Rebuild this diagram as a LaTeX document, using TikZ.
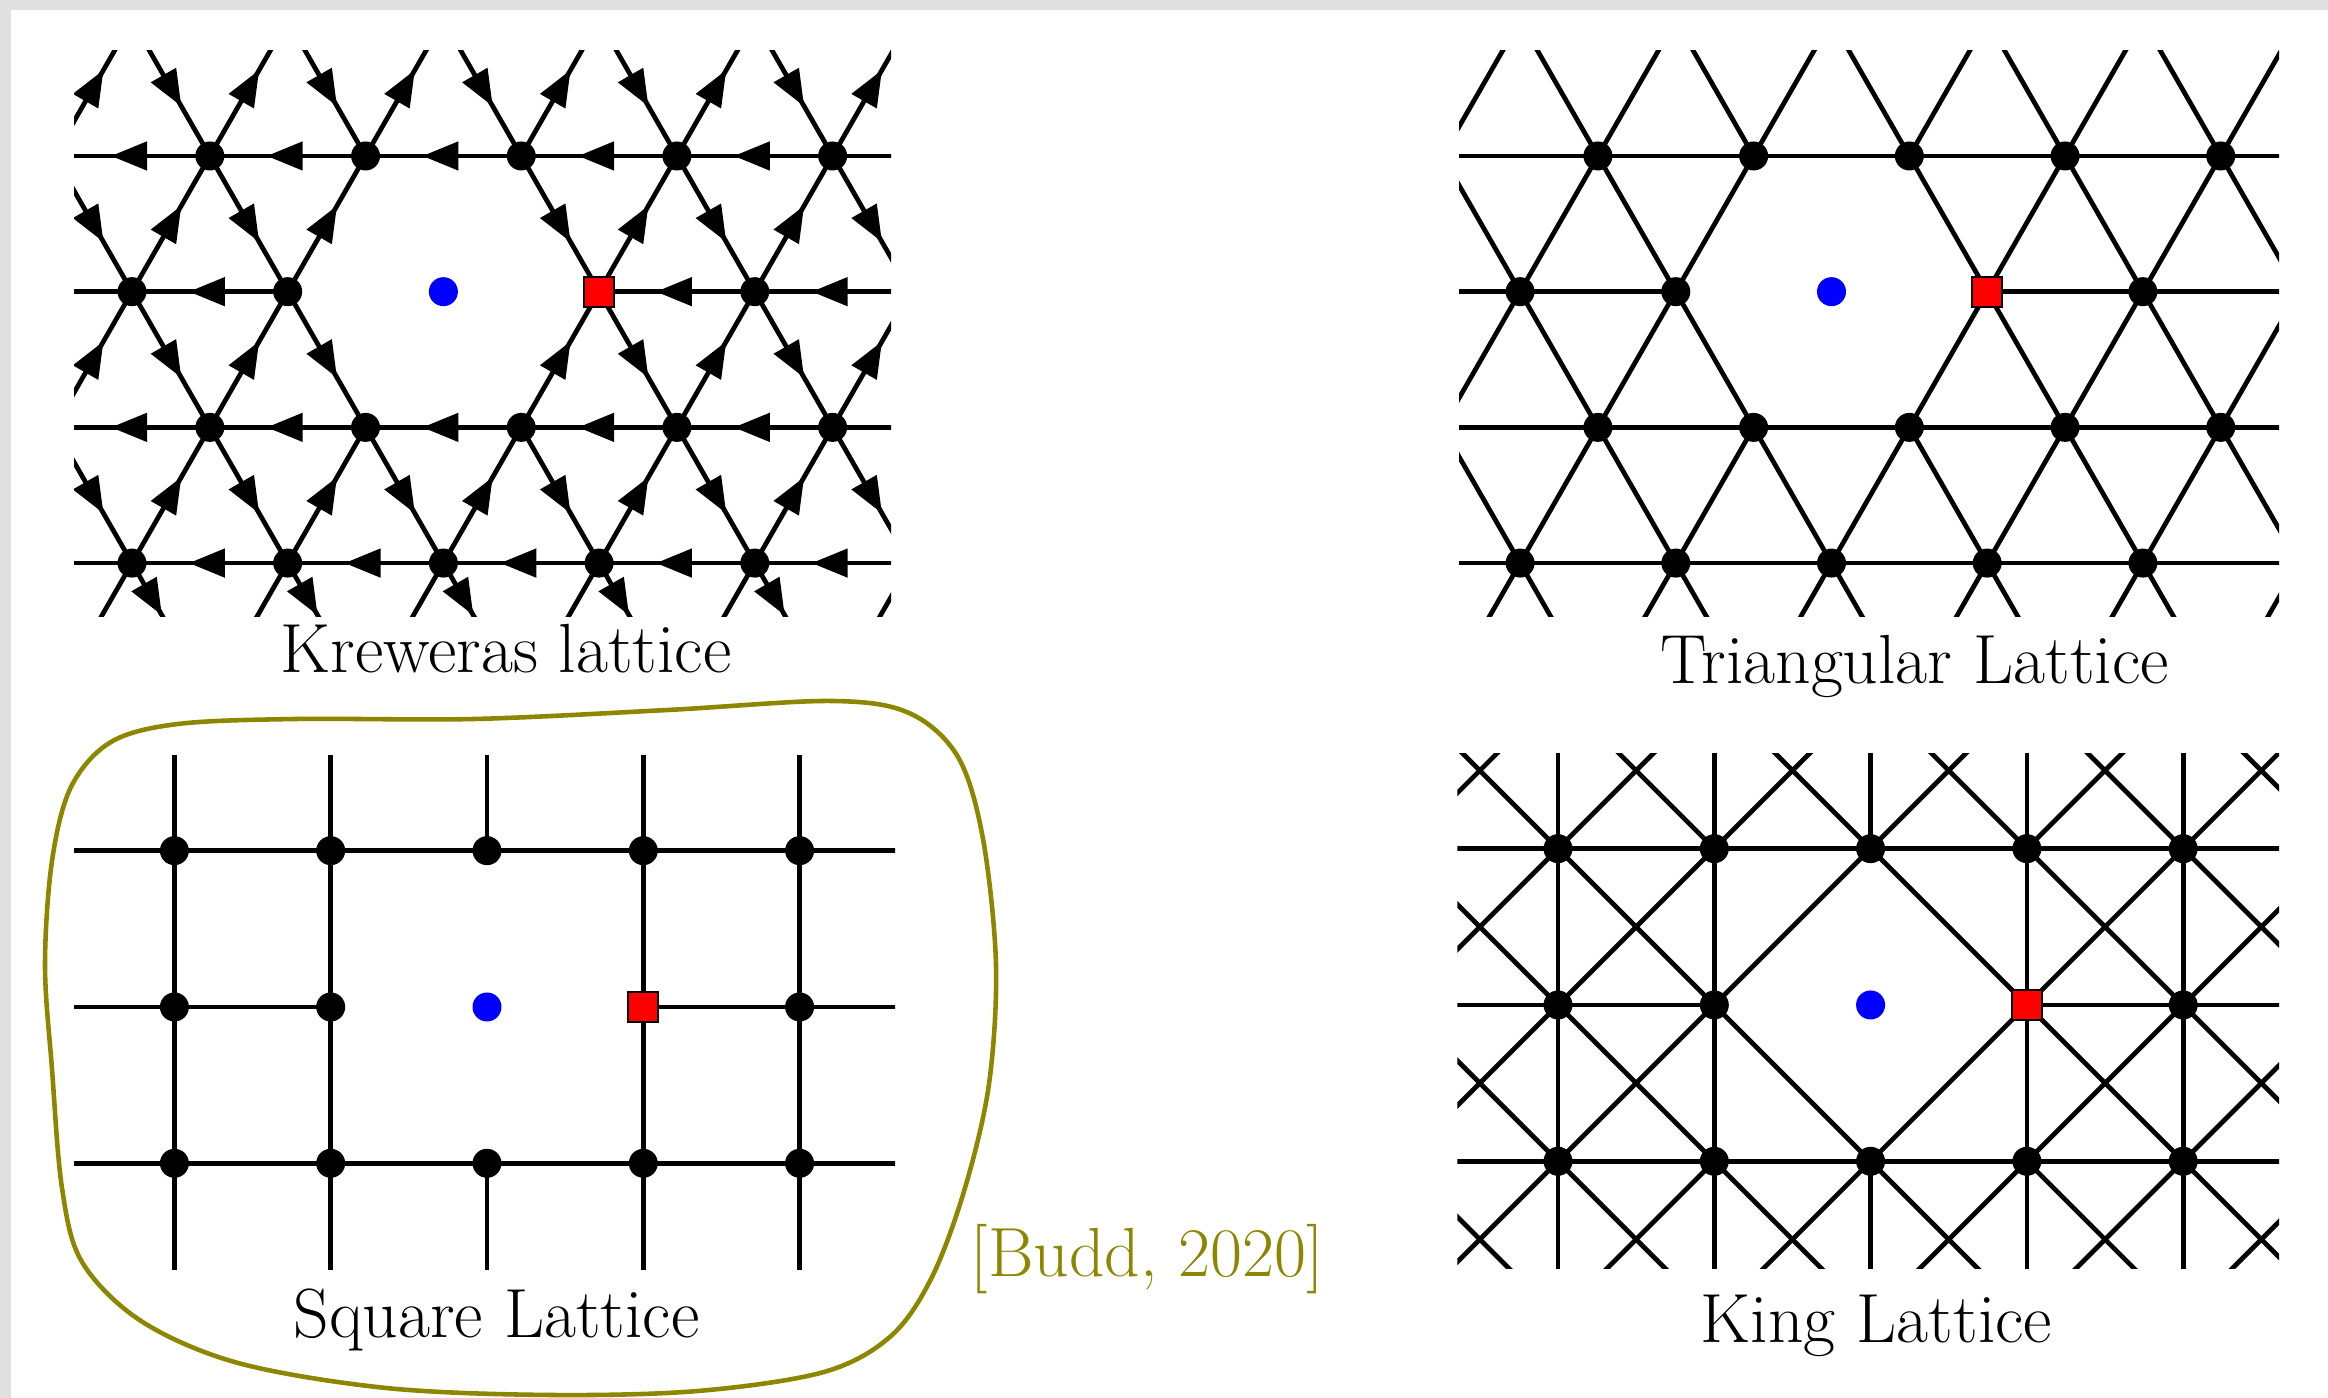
\documentclass[tikz,border=0pt]{standalone}
\usepackage{xcolor}
\usepackage{tikz}
\usetikzlibrary{arrows.meta,decorations.markings}

\begin{document}
\begin{tikzpicture}[
  edge/.style={line width=1.35pt},
  flow/.style={edge, postaction={decorate}, decoration={markings, mark=at position 0.5 with {\arrow[xshift=2.1mm]{Triangle[length=3.6mm,width=2.8mm]}}}},
  flowend/.style={edge, postaction={decorate}, decoration={markings, mark=at position 0.385 with {\arrow{Triangle[length=3.6mm,width=2.8mm]}}}},
  site/.style={circle, fill=black, inner sep=0pt, minimum size=2.9mm},
  origin/.style={circle, fill=blue, inner sep=0pt, minimum size=2.9mm},
  target/.style={rectangle, draw=black, fill=red, line width=0.6pt, inner sep=0pt, minimum size=3mm},
  caption/.style={anchor=base, inner sep=0pt, font=\fontsize{19.8}{24}\selectfont},
  blob/.style={draw=olive, line width=1.3pt}
]
\def\tra{1.557}
\def\trb{1.357}
\def\sqa{1.563}
\useasboundingbox (0,0) rectangle (23.28,13.98);
\fill[black!12] (0,0) rectangle (23.28,13.98);
\fill[white] (0.11,0) rectangle (23.28,13.88);

% Kreweras lattice
\foreach \i in {-6,...,6}
  \foreach \j in {-3,...,3}
    \coordinate (kr-\i-\j) at ({4.434+\i*\tra+\j*\tra/2},{11.063+\j*\trb});
\begin{scope}
  \clip (0.74,7.81) rectangle (8.91,13.47);
  \foreach \i in {-5,...,5}
    \foreach \j in {-3,...,2} {
      \pgfmathtruncatemacro\ip{\i+1}
      \pgfmathtruncatemacro\im{\i-1}
      \pgfmathtruncatemacro\jp{\j+1}
      \pgfmathtruncatemacro\cutH{(\j==0)&&((\i==0)||(\i==-1))}
      \pgfmathtruncatemacro\cutU{(\i==0)&&((\j==0)||(\j==-1))}
      \pgfmathtruncatemacro\cutD{((\i==0)&&(\j==0))||((\i==1)&&(\j==-1))}
      \ifnum\j=-3
        % stubs below the last row
        \draw[edge] (kr-\i-\j) -- (kr-\i-\jp);
        \draw[flowend] (kr-\im-\jp) -- (kr-\i-\j);
      \else
        \ifnum\cutH=0 \draw[flow] (kr-\ip-\j) -- (kr-\i-\j); \fi
        \ifnum\cutU=0 \draw[flow] (kr-\i-\j) -- (kr-\i-\jp); \fi
        \ifnum\cutD=0 \draw[flow] (kr-\im-\jp) -- (kr-\i-\j); \fi
      \fi
    }
  \foreach \i in {-6,...,6}
    \foreach \j in {-3,...,3} {
      \pgfmathtruncatemacro\isdot{((\i==0)||(\i==1))&&(\j==0)}
      \ifnum\isdot=0 \node[site] (krs-\i-\j) at (kr-\i-\j) {}; \fi
    }
\end{scope}
\node[origin] (krblue) at (kr-0-0) {};
\node[target] (krred) at (kr-1-0) {};
\node[caption] (krcap) at (5.06,7.25) {Kreweras lattice};

% triangular lattice
\foreach \i in {-6,...,6}
  \foreach \j in {-3,...,3}
    \coordinate (tr-\i-\j) at ({18.315+\i*\tra+\j*\tra/2},{11.063+\j*\trb});
\begin{scope}
  \clip (14.59,7.81) rectangle (22.79,13.47);
  \foreach \i in {-5,...,5}
    \foreach \j in {-3,...,2} {
      \pgfmathtruncatemacro\ip{\i+1}
      \pgfmathtruncatemacro\im{\i-1}
      \pgfmathtruncatemacro\jp{\j+1}
      \pgfmathtruncatemacro\cutH{(\j==0)&&((\i==0)||(\i==-1))}
      \pgfmathtruncatemacro\cutU{(\i==0)&&((\j==0)||(\j==-1))}
      \pgfmathtruncatemacro\cutD{((\i==0)&&(\j==0))||((\i==1)&&(\j==-1))}
      \ifnum\cutH=0 \draw[edge] (tr-\ip-\j) -- (tr-\i-\j); \fi
      \ifnum\cutU=0 \draw[edge] (tr-\i-\j) -- (tr-\i-\jp); \fi
      \ifnum\cutD=0 \draw[edge] (tr-\im-\jp) -- (tr-\i-\j); \fi
    }
  \foreach \i in {-6,...,6}
    \foreach \j in {-3,...,3} {
      \pgfmathtruncatemacro\isdot{((\i==0)||(\i==1))&&(\j==0)}
      \ifnum\isdot=0 \node[site] (trs-\i-\j) at (tr-\i-\j) {}; \fi
    }
\end{scope}
\node[origin] (trblue) at (tr-0-0) {};
\node[target] (trred) at (tr-1-0) {};
\node[caption] (trcap) at (19.145,7.14) {Triangular Lattice};

% square lattice
\foreach \i in {-3,...,3}
  \foreach \j in {-2,...,2}
    \coordinate (sq-\i-\j) at ({4.87+\i*\sqa},{3.91+\j*\sqa});
\begin{scope}
  \clip (0.74,1.28) rectangle (8.95,6.42);
  \foreach \i in {-3,...,2}
    \foreach \j in {-2,...,2} {
      \pgfmathtruncatemacro\ip{\i+1}
      \pgfmathtruncatemacro\cutH{(\j==0)&&((\i==0)||(\i==-1))}
      \ifnum\cutH=0 \draw[edge] (sq-\i-\j) -- (sq-\ip-\j); \fi
    }
  \foreach \i in {-3,...,3}
    \foreach \j in {-2,...,1} {
      \pgfmathtruncatemacro\jp{\j+1}
      \pgfmathtruncatemacro\cutV{(\i==0)&&((\j==0)||(\j==-1))}
      \ifnum\cutV=0 \draw[edge] (sq-\i-\j) -- (sq-\i-\jp); \fi
    }
  \foreach \i in {-3,...,3}
    \foreach \j in {-2,...,2} {
      \pgfmathtruncatemacro\isdot{((\i==0)||(\i==1))&&(\j==0)}
      \ifnum\isdot=0 \node[site] (sqs-\i-\j) at (sq-\i-\j) {}; \fi
    }
\end{scope}
\node[origin] (sqblue) at (sq-0-0) {};
\node[target] (sqred) at (sq-1-0) {};
\node[caption] (sqcap) at (4.965,0.60) {Square Lattice};

% king lattice
\foreach \i in {-4,...,4}
  \foreach \j in {-3,...,3}
    \coordinate (kg-\i-\j) at ({18.706+\i*\sqa},{3.93+\j*\sqa});
\begin{scope}
  \clip (14.574,1.295) rectangle (22.79,6.446);
  \foreach \i in {-4,...,3}
    \foreach \j in {-3,...,2} {
      \pgfmathtruncatemacro\ip{\i+1}
      \pgfmathtruncatemacro\jp{\j+1}
      \pgfmathtruncatemacro\cutH{(\j==0)&&((\i==0)||(\i==-1))}
      \pgfmathtruncatemacro\cutV{(\i==0)&&((\j==0)||(\j==-1))}
      \pgfmathtruncatemacro\cutA{((\i==0)&&(\j==0))||((\i==-1)&&(\j==-1))}
      \pgfmathtruncatemacro\cutB{((\i==0)&&(\j==-1))||((\i==-1)&&(\j==0))}
      \ifnum\cutH=0 \draw[edge] (kg-\i-\j) -- (kg-\ip-\j); \fi
      \ifnum\cutV=0 \draw[edge] (kg-\i-\j) -- (kg-\i-\jp); \fi
      \ifnum\cutA=0 \draw[edge] (kg-\i-\j) -- (kg-\ip-\jp); \fi
      \ifnum\cutB=0 \draw[edge] (kg-\i-\jp) -- (kg-\ip-\j); \fi
    }
  \foreach \i in {-4,...,4}
    \foreach \j in {-3,...,3} {
      \pgfmathtruncatemacro\isdot{((\i==0)||(\i==1))&&(\j==0)}
      \ifnum\isdot=0 \node[site] (kgs-\i-\j) at (kg-\i-\j) {}; \fi
    }
\end{scope}
\node[origin] (kgblue) at (kg-0-0) {};
\node[target] (kgred) at (kg-1-0) {};
\node[caption] (kgcap) at (18.765,0.55) {King Lattice};

% reference
\draw[blob] plot[smooth cycle, tension=0.55] coordinates {
  (0.45,4.33) (0.52,5.37) (0.71,6.11) (1.11,6.56) (1.78,6.74) (2.97,6.79)
  (4.75,6.79) (6.68,6.88) (8.31,6.97) (9.09,6.85) (9.58,6.41) (9.83,5.59)
  (9.96,4.33) (9.89,3.14) (9.65,2.10) (9.32,1.21) (8.91,0.62) (8.24,0.26)
  (6.98,0.07) (5.49,0.03) (3.86,0.10) (2.38,0.35) (1.41,0.77) (0.82,1.36)
  (0.62,2.10) (0.52,3.29)};
\node[caption, text=olive] (cite) at (11.475,1.21) {[Budd, 2020]};
\end{tikzpicture}
\end{document}
